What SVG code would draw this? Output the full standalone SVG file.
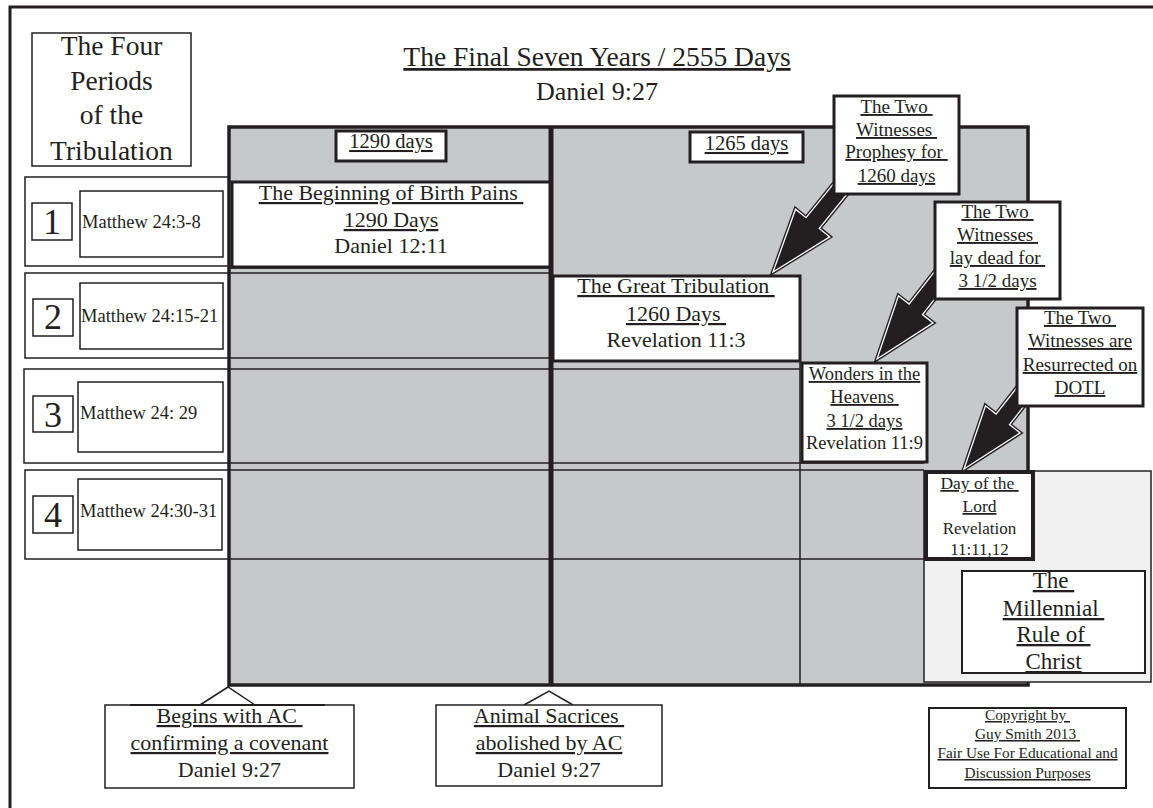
<svg xmlns="http://www.w3.org/2000/svg" width="1153" height="808" viewBox="0 0 1153 808">
<style>
  text { fill: #231f20; }
  .u { text-decoration: underline; }
  .c { text-anchor: middle; }
  .box { fill: #ffffff; stroke: #231f20; }
  .grid { stroke: #231f20; stroke-width: 1.5; fill: none; }
  .arrowOuter { fill: #231f20; stroke: #231f20; stroke-width: 4; stroke-linejoin: miter; }
  .arrowInner { fill: none; stroke: #ffffff; stroke-width: 1.3; stroke-linejoin: miter; }
</style>
<defs>
  <polygon id="arrowShape" points="0,0 -63,-22 -63,-8.5 -160,-8.5 -160,8.5 -63,8.5 -63,22"/>
</defs>
<rect width="1153" height="808" fill="#ffffff"/>
<rect x="10" y="7" width="1170" height="830" fill="none" stroke="#231f20" stroke-width="3"/>
<g font-family="Liberation Serif, DejaVu Serif, serif">

<g id="title">
  <text x="597" y="66" class="c u" font-size="27.5" xml:space="preserve">The Final Seven Years / 2555 Days</text>
  <text x="597" y="100" class="c" font-size="26">Daniel 9:27</text>
</g>

<g id="four-periods">
  <rect x="32" y="33" width="159" height="133" class="box" stroke-width="1.5"/>
  <text x="111.5" y="55" class="c" font-size="27.5">The Four</text>
  <text x="111.5" y="90" class="c" font-size="27.5">Periods</text>
  <text x="111.5" y="124" class="c" font-size="27.5">of the</text>
  <text x="111.5" y="160" class="c" font-size="27.5">Tribulation</text>
</g>

<g id="row1">
  <rect x="25" y="177" width="204" height="89" class="box" stroke="#3a3a3a" stroke-width="1.5"/>
  <rect x="32" y="203" width="40" height="37" class="box" stroke-width="1.5"/>
  <text x="52" y="234" class="c" font-size="36">1</text>
  <rect x="80" y="191" width="143" height="66" class="box" stroke-width="1.5"/>
  <text x="82" y="228" font-size="18.5">Matthew 24:3-8</text>
</g>
<g id="row2">
  <rect x="25" y="273" width="204" height="85" class="box" stroke="#3a3a3a" stroke-width="1.5"/>
  <rect x="33" y="299" width="40" height="37" class="box" stroke-width="1.5"/>
  <text x="53" y="329" class="c" font-size="36">2</text>
  <rect x="80" y="283" width="143" height="66" class="box" stroke-width="1.5"/>
  <text x="81" y="322" font-size="18.5">Matthew 24:15-21</text>
</g>
<g id="row3">
  <rect x="24" y="369" width="205" height="94" class="box" stroke="#3a3a3a" stroke-width="1.5"/>
  <rect x="33" y="396" width="40" height="36" class="box" stroke-width="1.5"/>
  <text x="53" y="427" class="c" font-size="36">3</text>
  <rect x="78" y="382" width="145" height="70" class="box" stroke-width="1.5"/>
  <text x="80" y="419" font-size="18.5">Matthew 24: 29</text>
</g>
<g id="row4">
  <rect x="25" y="470" width="204" height="89" class="box" stroke="#3a3a3a" stroke-width="1.5"/>
  <rect x="33" y="496" width="40" height="37" class="box" stroke-width="1.5"/>
  <text x="53" y="527" class="c" font-size="36">4</text>
  <rect x="78" y="479" width="144" height="71" class="box" stroke-width="1.5"/>
  <text x="80" y="517" font-size="18.5">Matthew 24:30-31</text>
</g>

<g id="timeline">
  <rect x="229" y="127" width="799" height="558" fill="#c7c8ca" stroke="#231f20" stroke-width="3.5"/>
  <line x1="229" y1="268" x2="551" y2="268" class="grid"/>
  <line x1="229" y1="273" x2="551" y2="273" class="grid"/>
  <line x1="229" y1="358" x2="551" y2="358" class="grid"/>
  <line x1="229" y1="369" x2="800" y2="369" class="grid"/>
  <line x1="229" y1="463" x2="924" y2="463" class="grid"/>
  <line x1="229" y1="470" x2="924" y2="470" class="grid"/>
  <line x1="229" y1="559" x2="924" y2="559" class="grid"/>
  <line x1="800" y1="361" x2="800" y2="685" class="grid"/>
  <line x1="551" y1="127" x2="551" y2="686" stroke="#231f20" stroke-width="5"/>
</g>

<g id="millennium-area">
  <rect x="924" y="471" width="227" height="211" fill="#f1f1f2" stroke="#231f20" stroke-width="1.5"/>
</g>

<g id="days-1290">
  <rect x="336" y="131" width="110" height="30" class="box" stroke-width="3"/>
  <text x="391" y="148" class="c u" font-size="20.5">1290 days</text>
</g>
<g id="days-1265">
  <rect x="690" y="132" width="113" height="30" class="box" stroke-width="3"/>
  <text x="746.5" y="150" class="c u" font-size="20.5">1265 days</text>
</g>

<g id="birth-pains">
  <rect x="232" y="182" width="318" height="85" class="box" stroke-width="3"/>
  <text x="391" y="200" class="c u" font-size="22" xml:space="preserve">The Beginning of Birth Pains </text>
  <text x="391" y="227" class="c u" font-size="22">1290 Days</text>
  <text x="391" y="253" class="c" font-size="22">Daniel 12:11</text>
</g>

<g id="great-tribulation">
  <rect x="553" y="276" width="247" height="85" class="box" stroke-width="3"/>
  <text x="676" y="293" class="c u" font-size="22" xml:space="preserve">The Great Tribulation </text>
  <text x="676" y="321" class="c u" font-size="22" xml:space="preserve">1260 Days </text>
  <text x="676" y="347" class="c" font-size="22">Revelation 11:3</text>
</g>

<g id="wonders">
  <rect x="802" y="363" width="125" height="99" class="box" stroke-width="3"/>
  <text x="864.5" y="380" class="c u" font-size="18.5">Wonders in the</text>
  <text x="864.5" y="403" class="c u" font-size="18.5" xml:space="preserve">Heavens </text>
  <text x="864.5" y="427" class="c u" font-size="18.5">3 1/2 days</text>
  <text x="864.5" y="449" class="c" font-size="18.5">Revelation 11:9</text>
</g>

<g id="day-of-the-lord">
  <rect x="926" y="472" width="107" height="87" class="box" stroke-width="4"/>
  <text x="979.5" y="489" class="c u" font-size="17.5" xml:space="preserve">Day of the </text>
  <text x="979.5" y="512" class="c u" font-size="17.5">Lord</text>
  <text x="979.5" y="534" class="c" font-size="17">Revelation</text>
  <text x="979.5" y="555" class="c" font-size="17">11:11,12</text>
</g>

<g id="millennial-rule">
  <rect x="962" y="571" width="183" height="102" class="box" stroke-width="2"/>
  <text x="1053.5" y="588" class="c u" font-size="23" xml:space="preserve">The </text>
  <text x="1053.5" y="616" class="c u" font-size="23" xml:space="preserve">Millennial </text>
  <text x="1053.5" y="642" class="c u" font-size="23" xml:space="preserve">Rule of </text>
  <text x="1053.5" y="669" class="c u" font-size="23">Christ</text>
</g>

<g id="connectors">
  <g transform="translate(773,272) rotate(129)">
    <use href="#arrowShape" class="arrowOuter"/>
    <use href="#arrowShape" class="arrowInner"/>
  </g>
  <g transform="translate(877,359) rotate(128)">
    <use href="#arrowShape" class="arrowOuter"/>
    <use href="#arrowShape" class="arrowInner"/>
  </g>
  <g transform="translate(964,469) rotate(128)">
    <use href="#arrowShape" class="arrowOuter"/>
    <use href="#arrowShape" class="arrowInner"/>
  </g>
  <polyline points="200,705 228,687 255,705" fill="none" stroke="#231f20" stroke-width="1.5"/>
  <polyline points="524,705 549,691 573,705" fill="none" stroke="#231f20" stroke-width="1.5"/>
</g>

<g id="witnesses-prophesy">
  <rect x="834" y="96" width="125" height="98" class="box" stroke-width="3"/>
  <text x="896.5" y="113" class="c u" font-size="19" xml:space="preserve">The Two </text>
  <text x="896.5" y="136" class="c u" font-size="19" xml:space="preserve">Witnesses </text>
  <text x="896.5" y="158" class="c u" font-size="19" xml:space="preserve">Prophesy for </text>
  <text x="896.5" y="182" class="c u" font-size="19">1260 days</text>
</g>
<g id="witnesses-dead">
  <rect x="935" y="202" width="125" height="97" class="box" stroke-width="3"/>
  <text x="997.5" y="218" class="c u" font-size="19" xml:space="preserve">The Two </text>
  <text x="997.5" y="241" class="c u" font-size="19" xml:space="preserve">Witnesses </text>
  <text x="997.5" y="264" class="c u" font-size="19" xml:space="preserve">lay dead for </text>
  <text x="997.5" y="287" class="c u" font-size="19">3 1/2 days</text>
</g>
<g id="witnesses-resurrected">
  <rect x="1017" y="308" width="126" height="98" class="box" stroke-width="3"/>
  <text x="1080" y="324" class="c u" font-size="19" xml:space="preserve">The Two </text>
  <text x="1080" y="347" class="c u" font-size="19">Witnesses are</text>
  <text x="1080" y="371" class="c u" font-size="19">Resurrected on</text>
  <text x="1080" y="394" class="c u" font-size="19">DOTL</text>
</g>

<g id="begins-covenant">
  <rect x="105" y="705" width="249" height="83" class="box" stroke-width="1.5"/>
  <line x1="130" y1="705" x2="325" y2="705" stroke="#231f20" stroke-width="2"/>
  <text x="229.5" y="723" class="c u" font-size="22" xml:space="preserve">Begins with AC </text>
  <text x="229.5" y="750" class="c u" font-size="22">confirming a covenant</text>
  <text x="229.5" y="777" class="c" font-size="22">Daniel 9:27</text>
</g>
<g id="sacrifices-abolished">
  <rect x="436" y="705" width="226" height="81" class="box" stroke-width="1.5"/>
  <text x="549" y="723" class="c u" font-size="22" xml:space="preserve">Animal Sacrices </text>
  <text x="549" y="750" class="c u" font-size="22">abolished by AC</text>
  <text x="549" y="777" class="c" font-size="22">Daniel 9:27</text>
</g>

<g id="copyright">
  <rect x="929" y="708" width="197" height="80" class="box" stroke-width="2"/>
  <text x="1027.5" y="720" class="c u" font-size="15.3" xml:space="preserve">Copyright by </text>
  <text x="1027.5" y="739" class="c u" font-size="15.3" xml:space="preserve">Guy Smith 2013 </text>
  <text x="1027.5" y="758" class="c u" font-size="15.3">Fair Use For Educational and</text>
  <text x="1027.5" y="778" class="c u" font-size="15.3">Discussion Purposes</text>
</g>
</g>
</svg>
